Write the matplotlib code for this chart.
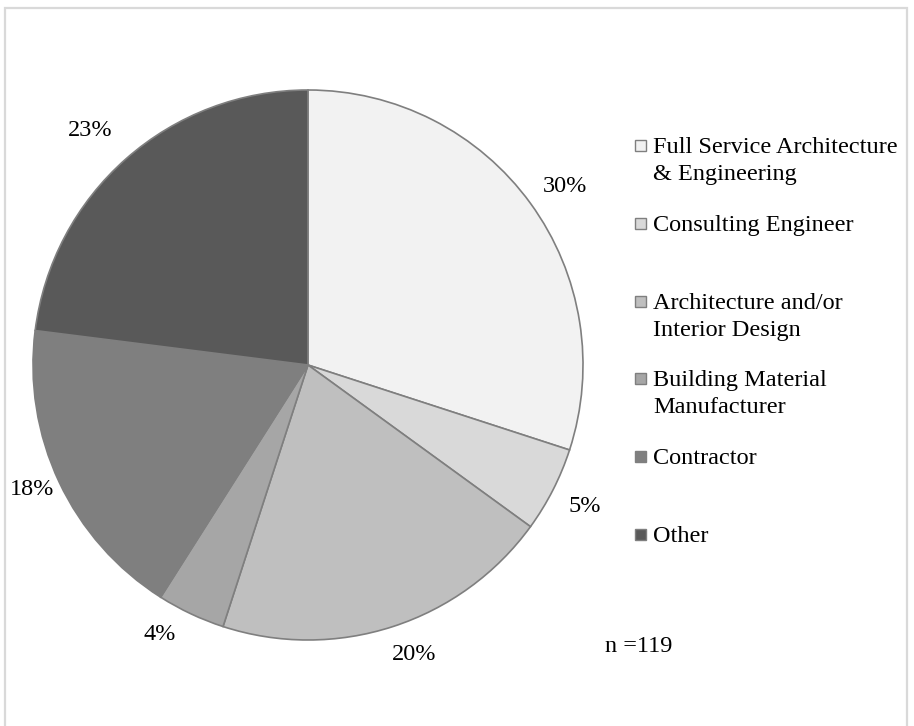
import matplotlib.pyplot as plt
from matplotlib.patches import Rectangle

plt.rcParams['font.family'] = ['Liberation Serif', 'DejaVu Serif']

categories = ['Full Service Architecture\n& Engineering', 'Consulting Engineer',
              'Architecture and/or\nInterior Design', 'Building Material\nManufacturer',
              'Contractor', 'Other']
shares = [30, 5, 20, 4, 18, 23]
colors = ['#f2f2f2', '#d9d9d9', '#bfbfbf', '#a6a6a6', '#7f7f7f', '#595959']
sample_note = 'n =119'

FS = 17.5
W, H = 914, 726
fig = plt.figure(figsize=(W / 100, H / 100), dpi=100)

# outer frame
fig.patches.append(Rectangle((4.5 / W, -0.01), 902.5 / W, 1 - 7.5 / H + 0.01,
                             transform=fig.transFigure, fill=False,
                             edgecolor='#d9d9d9', linewidth=1.6))

# pie axes: centre (308, 365) px, radius 275 px
cx, cy, r = 308, 365, 275
ax = fig.add_axes([(cx - r) / W, (H - cy - r) / H, 2 * r / W, 2 * r / H])
wedges, autotexts = ax.pie(shares, colors=colors, startangle=90, counterclock=False,
                           autopct='%.0f%%', pctdistance=1.13, radius=1,
                           wedgeprops=dict(edgecolor='#7f7f7f', linewidth=1.2),
                           textprops=dict(fontsize=FS, color='#000000'))[0::2]
ax.set_xlim(-1, 1)
ax.set_ylim(-1, 1)
ax.set_aspect('equal')
ax.axis('off')

# small nudges of the percentage labels (pixels: right, down)
nudges = [(6, 4), (0, 0), (10, -6), (-16, -12), (5, -8), (-12, -1)]
for t, (dx, dy) in zip(autotexts, nudges):
    x, y = t.get_position()
    t.set_position((x + dx / r, y - dy / r))
    t.set_clip_on(False)

# legend drawn by hand so the swatch sits on the first line
marker_y = [145, 223, 301, 378, 456, 534]
line_gap = 27
for label, col, my in zip(categories, colors, marker_y):
    fig.patches.append(Rectangle((634.5 / W, (H - my - 6) / H), 11 / W, 11 / H,
                                 transform=fig.transFigure, facecolor=col,
                                 edgecolor='#7f7f7f', linewidth=1.0))
    for i, line in enumerate(label.split('\n')):
        fig.text(653 / W, (H - my - 8 - i * line_gap) / H, line, fontsize=FS,
                 ha='left', va='baseline')

fig.text(605 / W, (H - 646) / H, sample_note, fontsize=FS, ha='left', va='center')

fig.savefig('out.png', dpi=100)
